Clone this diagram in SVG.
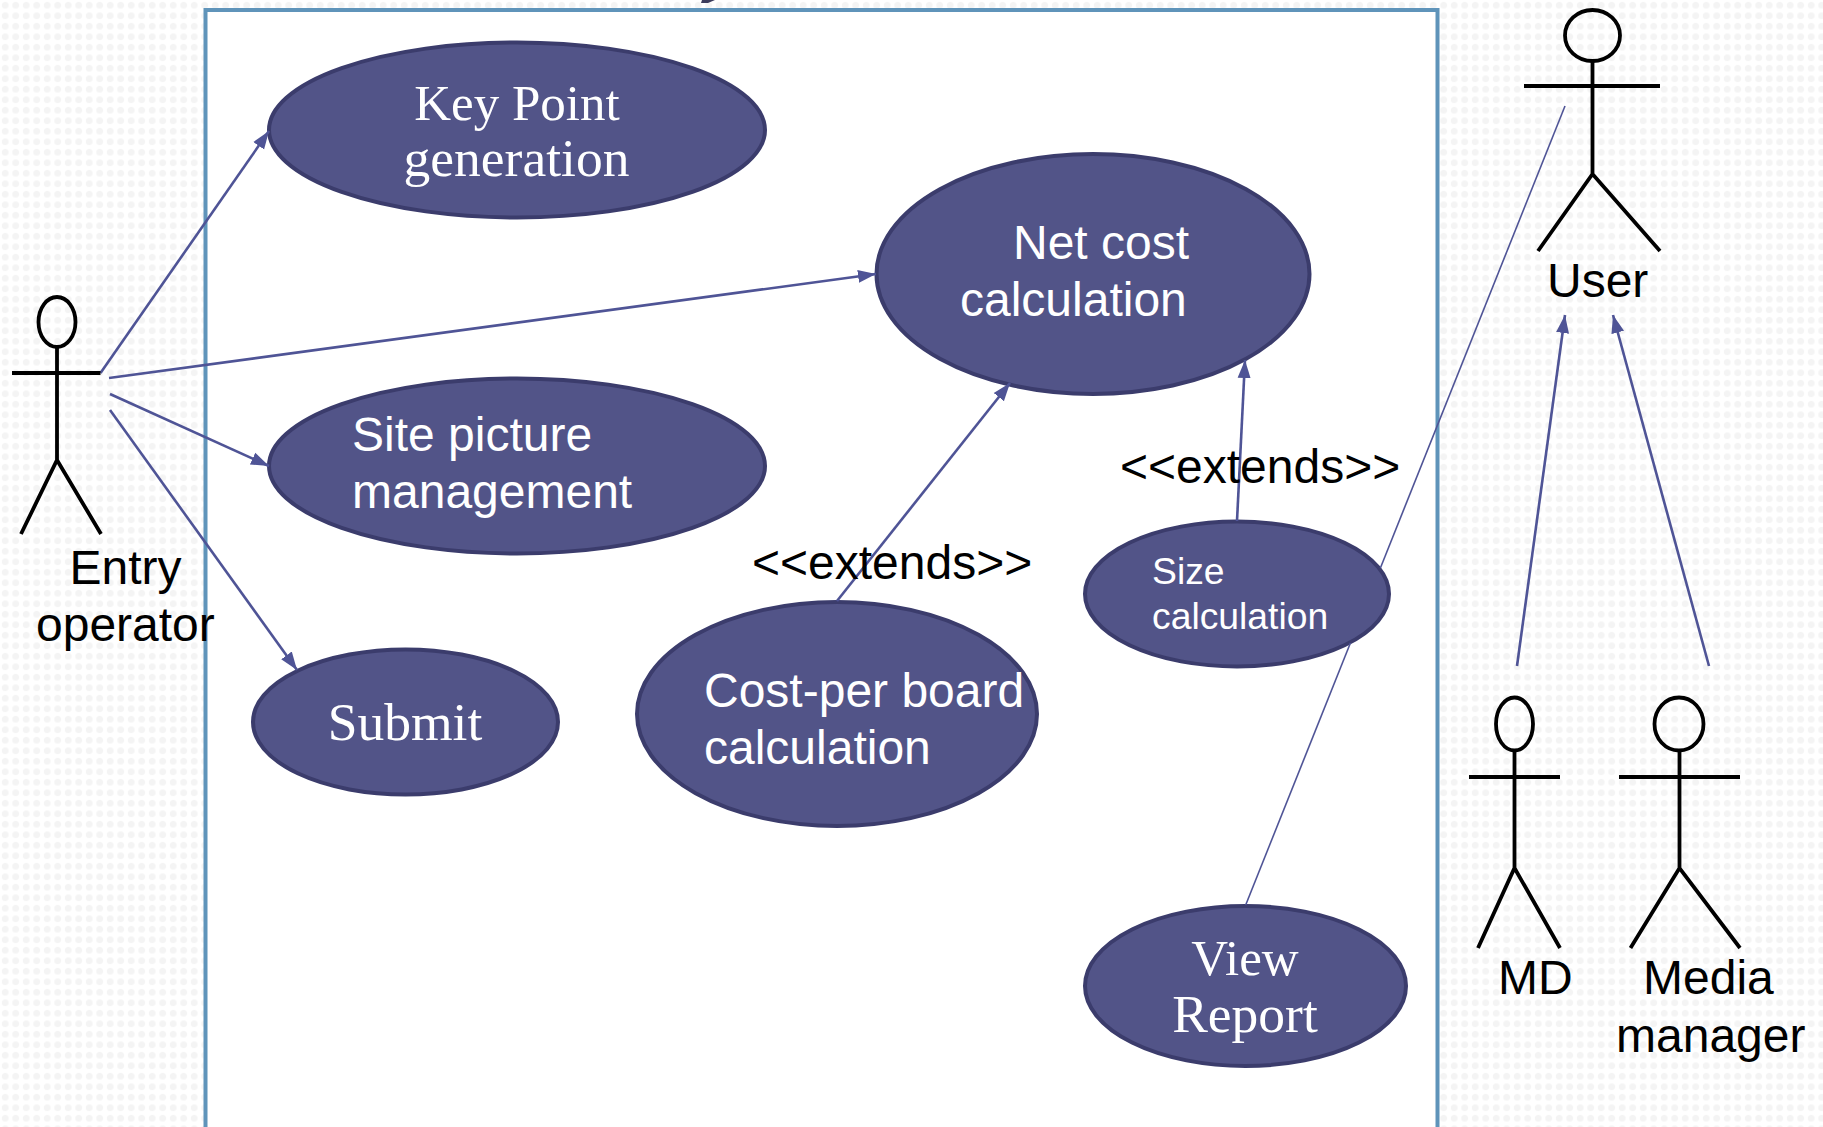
<svg xmlns="http://www.w3.org/2000/svg" width="1823" height="1127" viewBox="0 0 1823 1127">
<style>
.uc{fill:#525488;stroke:#3b3c6c;stroke-width:4}
.sans{font-family:"Liberation Sans",Arial,sans-serif;font-size:48px}
.serif{font-family:"Liberation Serif","Times New Roman",serif;font-size:51px;text-anchor:middle}
.big{font-size:53.500px}
.w{fill:#fff}
.k{fill:#000}
.stick{fill:none;stroke:#000;stroke-width:3.8}
.head{fill:none;stroke:#000;stroke-width:3.8}
.con{stroke:#4f5496;stroke-width:2.6;fill:none}
.arr{marker-end:url(#ah)}
.thin{stroke-width:1.6}
</style>
<defs>
<pattern id="dots" width="10.5" height="10.5" patternUnits="userSpaceOnUse">
<circle cx="5.2" cy="5.2" r="3.4" fill="#f4f4f4"/>
</pattern>
<marker id="ah" markerUnits="userSpaceOnUse" markerWidth="20" markerHeight="16" refX="18" refY="8" orient="auto">
<path d="M0 1.500 L18 8 L0 14.500 Z" fill="#4f5496"/>
</marker>
</defs>
<rect width="1823" height="1127" fill="#fff"/>
<rect width="1823" height="1127" fill="url(#dots)"/>
<rect x="205.500" y="10" width="1232" height="1130" fill="#fff" stroke="#5f94ba" stroke-width="4"/>
<path id="top-fragment" d="M701 3 L708 3 L715 0 L702 0 Z" fill="#3b3c5c"/>

<g id="uc-keypoint"><ellipse class="uc" cx="517" cy="130" rx="248" ry="87.500"/><text class="serif w"><tspan x="517" y="119.500">Key Point</tspan><tspan class="big" x="516.500" y="176">generation</tspan></text></g>
<g id="uc-site"><ellipse class="uc" cx="517" cy="466" rx="248" ry="87.500"/><text class="sans w"><tspan x="352" y="451">Site picture</tspan><tspan x="352" y="508">management</tspan></text></g>
<g id="uc-submit"><ellipse class="uc" cx="405.500" cy="722" rx="152.500" ry="72.500"/><text class="serif w big" x="405" y="740">Submit</text></g>
<g id="uc-netcost"><ellipse class="uc" cx="1093" cy="274" rx="216.500" ry="120"/><text class="sans w"><tspan x="1013" y="259">Net cost</tspan><tspan x="960" y="316">calculation</tspan></text></g>
<g id="uc-costper"><ellipse class="uc" cx="837" cy="714" rx="200" ry="112"/><text class="sans w"><tspan x="704" y="707">Cost-per board</tspan><tspan x="704" y="764">calculation</tspan></text></g>
<g id="uc-size"><ellipse class="uc" cx="1237" cy="594" rx="152" ry="72.500"/><text class="sans w" style="font-size:37.300px"><tspan x="1152" y="584">Size</tspan><tspan x="1152" y="629">calculation</tspan></text></g>
<g id="uc-view"><ellipse class="uc" cx="1245.500" cy="986" rx="160.500" ry="80"/><text class="serif w"><tspan x="1245" y="975">View</tspan><tspan class="big" x="1245" y="1032">Report</tspan></text></g>

<g id="connectors">
<line class="con arr" x1="100.500" y1="373" x2="269" y2="131"/>
<line class="con arr" x1="109" y1="378" x2="876" y2="274"/>
<line class="con arr" x1="110" y1="394" x2="269" y2="466"/>
<line class="con arr" x1="110" y1="410" x2="297" y2="670"/>
<line class="con arr" x1="837" y1="601" x2="1010" y2="383"/>
<line class="con arr" x1="1237" y1="521" x2="1245" y2="360"/>
<line class="con arr" x1="1517" y1="666" x2="1565" y2="315"/>
<line class="con arr" x1="1709" y1="666" x2="1613" y2="315"/>
<line class="con thin" x1="1565" y1="106" x2="1380.400" y2="568"/>
<line class="con thin" x1="1350.400" y1="643" x2="1245.700" y2="905"/>
</g>

<g id="actor-entry"><ellipse class="head" cx="57" cy="322" rx="18.500" ry="25"/><path class="stick" d="M57 347 V460 M12 373 H100.500 M21 534 L57 460 L101 534"/><text class="sans k"><tspan x="69.500" y="584">Entry</tspan><tspan x="36" y="641">operator</tspan></text></g>
<g id="actor-user"><ellipse class="head" cx="1592.500" cy="35.500" rx="27.500" ry="25.500"/><path class="stick" d="M1592.500 61 V174 M1524 86 H1660 M1538 251 L1592.500 174 L1660 251"/><text class="sans k" x="1547" y="297">User</text></g>
<g id="actor-md"><ellipse class="head" cx="1514.500" cy="724" rx="18.500" ry="26.500"/><path class="stick" d="M1514.500 750 V868 M1469 777 H1560 M1478 948 L1514.500 868 L1560 948"/><text class="sans k" x="1498" y="994">MD</text></g>
<g id="actor-media"><ellipse class="head" cx="1679" cy="724" rx="24.500" ry="26.500"/><path class="stick" d="M1679.500 750 V868 M1619 777 H1740 M1630.500 948 L1679.500 868 L1740 948"/><text class="sans k"><tspan x="1643" y="994">Media</tspan><tspan x="1616" y="1052">manager</tspan></text></g>

<g id="labels">
<text class="sans k" x="752" y="579">&lt;&lt;extends&gt;&gt;</text>
<text class="sans k" x="1120" y="483">&lt;&lt;extends&gt;&gt;</text>
</g>
</svg>
